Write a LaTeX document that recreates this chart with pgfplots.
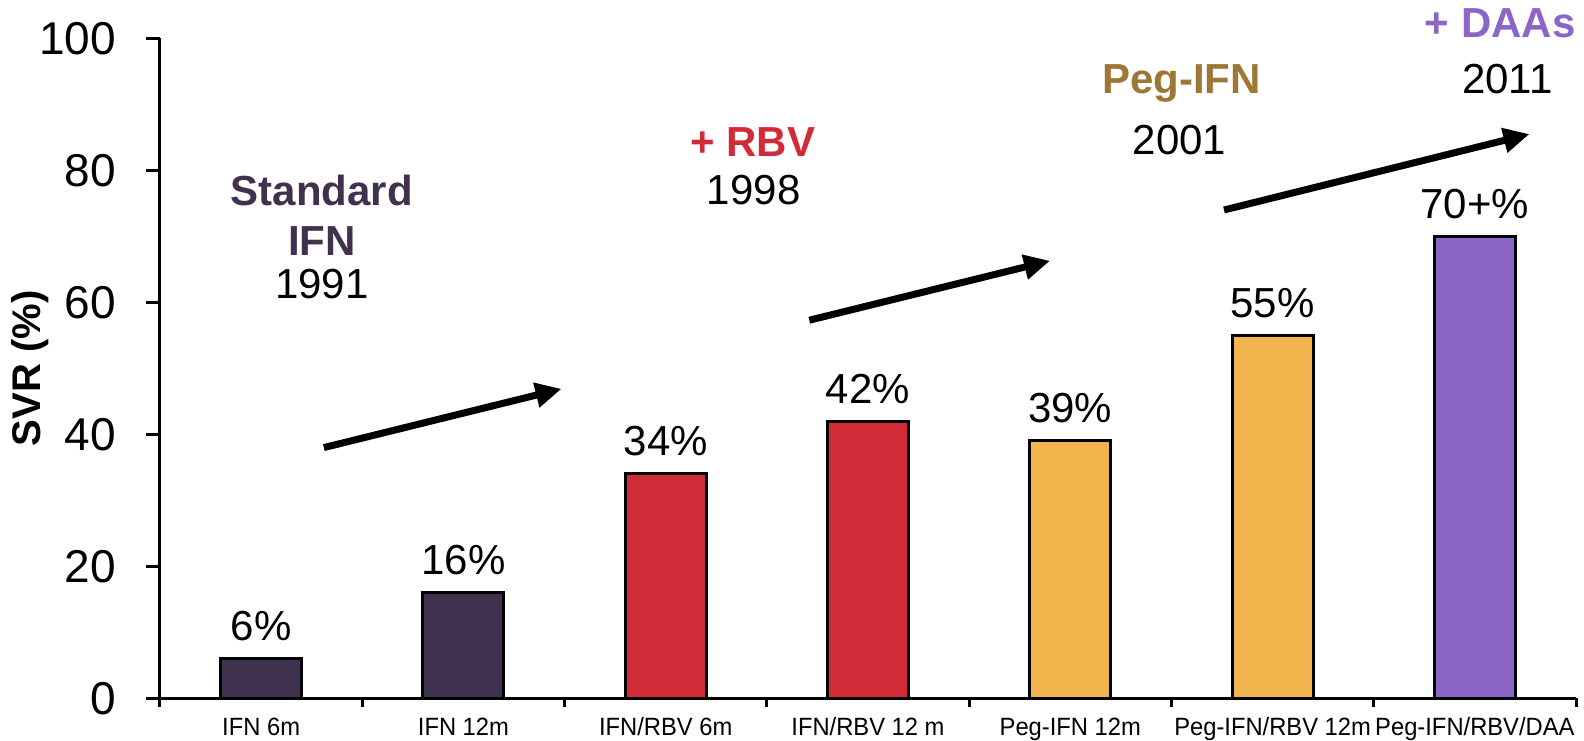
\documentclass[border=0pt]{standalone}
\usepackage{fontspec}
\setmainfont{Liberation Sans}
\newfontfamily\narrowsans[FakeStretch=0.95]{Liberation Sans}
\usepackage{pgfplots}
\pgfplotsset{compat=1.18}
\usetikzlibrary{arrows.meta}

\definecolor{stdifn}{HTML}{40314F}
\definecolor{rbvred}{HTML}{D22B38}
\definecolor{pegorange}{HTML}{F2B44C}
\definecolor{pegtext}{HTML}{9E7636}
\definecolor{daapurple}{HTML}{8B66C6}

\newcommand{\fs}[1]{\fontsize{#1}{#1}\selectfont}

\begin{document}
\begin{tikzpicture}
\path[use as bounding box] (-160pt,-42pt) rectangle (1424pt,698.4pt);
\begin{axis}[
  at={(0,0)}, anchor=south west,
  scale only axis, width=1416pt, height=660pt,
  xmin=-0.5, xmax=6.5, ymin=0, ymax=100,
  axis lines=left,
  axis line style={line width=3pt, -},
  clip=false,
  ybar, bar width=0.4,
  ytick={0,20,...,100},
  xtick={0,...,6},
  xticklabels={IFN 6m, IFN 12m, IFN/RBV 6m, IFN/RBV 12 m, Peg-IFN 12m, Peg-IFN/RBV 12m, Peg-IFN/RBV/DAA},
  minor xtick={-0.5,0.5,...,6.5},
  tick align=outside,
  major tick length=14pt,
  minor tick length=9pt,
  every tick/.style={black, line width=3pt},
  every major x tick/.append style={draw=none},
  /pgf/number format/assume math mode=true,
  yticklabel style={font=\fs{46}, anchor=east, inner sep=0pt, xshift=-30pt},
  xticklabel style={font=\narrowsans\fs{25}, anchor=base, inner sep=0pt, yshift=-23pt},
  ylabel={\textbf{SVR (\%)}},
  ylabel style={font=\fs{40}, at={(axis description cs:-0.092,0.5)}, anchor=center},
  point meta=explicit symbolic,
  nodes near coords,
  nodes near coords style={font=\fs{42}, anchor=base, inner sep=0pt, yshift=18pt, black},
]
% Standard interferon
\addplot[fill=stdifn, draw=black, line width=3pt, bar shift=0pt]
  coordinates {(0,6) [6\%] (1,16) [16\%]};
% Interferon plus ribavirin
\addplot[fill=rbvred, draw=black, line width=3pt, bar shift=0pt]
  coordinates {(2,34) [34\%] (3,42) [42\%]};
% Pegylated interferon
\addplot[fill=pegorange, draw=black, line width=3pt, bar shift=0pt]
  coordinates {(4,39) [39\%] (5,55) [55\%]};
% Direct-acting antivirals
\addplot[fill=daapurple, draw=black, line width=3pt, bar shift=0pt]
  coordinates {(6,70) [70+\%]};

% Era labels
\node[anchor=base, font=\bfseries\fs{42}, text=stdifn] at (axis cs:0.30,74.7) {Standard};
\node[anchor=base, font=\bfseries\fs{42}, text=stdifn] at (axis cs:0.30,67.1) {IFN};
\node[anchor=base, font=\fs{42}] at (axis cs:0.30,60.6) {1991};

\node[anchor=base, font=\bfseries\fs{42}, text=rbvred] at (axis cs:2.43,82.1) {+ RBV};
\node[anchor=base, font=\fs{42}] at (axis cs:2.435,74.9) {1998};

\node[anchor=base, font=\bfseries\fs{42}, text=pegtext] at (axis cs:4.55,91.6) {Peg-IFN};
\node[anchor=base, font=\fs{42}] at (axis cs:4.54,82.4) {2001};

\node[anchor=base, font=\bfseries\fs{42}, text=daapurple] at (axis cs:6.125,100.2) {+ DAAs};
\node[anchor=base, font=\fs{42}] at (axis cs:6.16,91.7) {2011};

% Progress arrows
\draw[line width=7pt, -{Triangle[length=26pt,width=24pt]}] (axis cs:0.31,38.0) -- (axis cs:1.485,46.9);
\draw[line width=7pt, -{Triangle[length=26pt,width=24pt]}] (axis cs:2.71,57.3) -- (axis cs:3.90,66.3);
\draw[line width=7pt, -{Triangle[length=26pt,width=24pt]}] (axis cs:4.76,74.0) -- (axis cs:6.27,85.5);
\end{axis}
\end{tikzpicture}
\end{document}
